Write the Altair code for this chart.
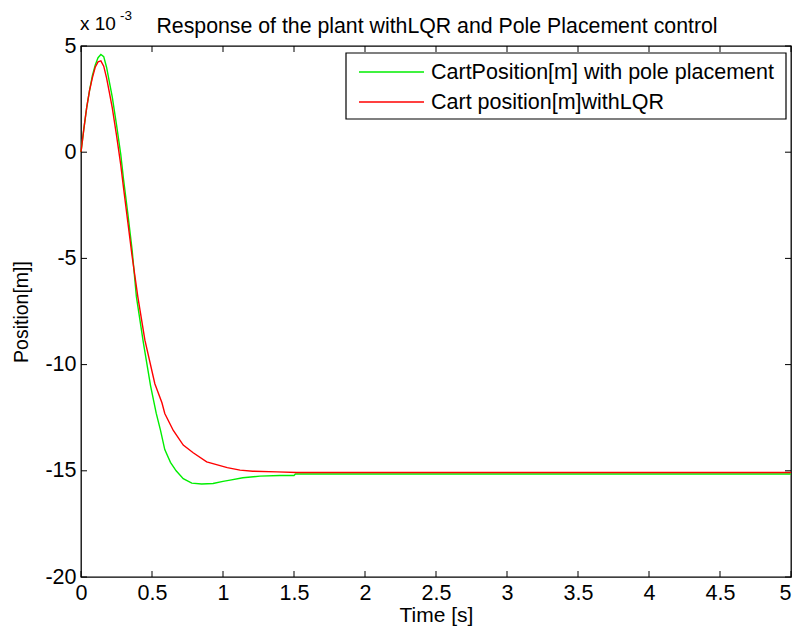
import altair as alt
import pandas as pd

FONT = "Liberation Sans"

# --- data (values in units of 1e-3 m) ---
series_names = ["CartPosition[m] with pole placement", "Cart position[m]withLQR"]
series_colors = ["#00ee00", "#ff0000"]

t_pp = [0, 0.02, 0.04, 0.06, 0.08, 0.10, 0.12, 0.14, 0.16, 0.18, 0.20, 0.22, 0.25,
        0.28, 0.30, 0.33, 0.36, 0.39, 0.44, 0.49, 0.53, 0.56, 0.59, 0.63, 0.67,
        0.72, 0.78, 0.85, 0.93, 1.00, 1.05, 1.14, 1.26, 1.40, 1.50, 1.51, 2.0,
        3.0, 4.0, 5.0]
y_pp = [0, 1.1, 2.1, 2.9, 3.6, 4.1, 4.45, 4.6, 4.5, 4.0, 3.3, 2.6, 1.3,
        -0.1, -1.3, -2.9, -4.6, -6.8, -9.0, -11.0, -12.3, -13.1, -14.0, -14.6, -15.0,
        -15.37, -15.58, -15.62, -15.6, -15.5, -15.44, -15.33, -15.25, -15.22, -15.22, -15.15, -15.15,
        -15.15, -15.15, -15.15]

t_lqr = [0, 0.02, 0.04, 0.06, 0.08, 0.10, 0.12, 0.14, 0.16, 0.18, 0.20, 0.22, 0.25,
         0.28, 0.30, 0.33, 0.36, 0.40, 0.45, 0.52, 0.57, 0.59, 0.65, 0.72, 0.79,
         0.885, 1.03, 1.12, 1.21, 1.38, 1.52, 2.0, 3.0, 4.0, 5.0]
y_lqr = [0, 1.1, 2.1, 2.9, 3.5, 4.0, 4.25, 4.3, 4.05, 3.5, 2.8, 2.1, 0.8,
         -0.6, -1.7, -3.3, -4.9, -6.8, -8.85, -10.9, -11.8, -12.3, -13.1, -13.79, -14.15,
         -14.58, -14.85, -14.97, -15.02, -15.05, -15.08, -15.08, -15.08, -15.08, -15.08]

x_ticks = [0, 0.5, 1, 1.5, 2, 2.5, 3, 3.5, 4, 4.5, 5]
y_ticks = [-20, -15, -10, -5, 0, 5]

title_text = "Response of the plant withLQR and Pole Placement control"
x_title = "Time [s]"
y_title = "Position[m]]"
exp_base = "x 10"
exp_power = "-3"

W, H = 710, 531
TICK = 6

# legend box layout (pixels, relative to plot area)
LEG_X0, LEG_X1, LEG_Y0, LEG_Y1 = 265, 705, 7, 73
LEG_SYM_X0, LEG_SYM_X1, LEG_TEXT_X = 278, 343, 350
LEG_ROW_Y = [26, 56]

# --- tables ---
df = pd.concat([
    pd.DataFrame({"t": t_pp, "y": y_pp, "series": series_names[0]}),
    pd.DataFrame({"t": t_lqr, "y": y_lqr, "series": series_names[1]}),
], ignore_index=True)
df_xt = pd.DataFrame({"t": x_ticks})
df_yt = pd.DataFrame({"y": y_ticks})

xscale = alt.Scale(domain=[0, 5], nice=False, zero=False)
yscale = alt.Scale(domain=[-20, 5], nice=False, zero=False)
cscale = alt.Scale(domain=series_names, range=series_colors)

lines = alt.Chart(df).mark_line(strokeWidth=1.4).encode(
    x=alt.X("t:Q", scale=xscale, title=x_title,
            axis=alt.Axis(values=x_ticks, ticks=False, tickSize=0, domain=False, grid=False,
                          labelExpr="datum.value + ''",
                          labelAlign=alt.ExprRef("datum.value >= 5 ? 'right' : 'center'"),
                          labelPadding=5, labelFontSize=21.5, labelFont=FONT, labelColor="black",
                          titleFont=FONT, titleFontSize=21, titleFontWeight="normal",
                          titleColor="black", titlePadding=1, labelFlush=False)),
    y=alt.Y("y:Q", scale=yscale, title=y_title,
            axis=alt.Axis(values=y_ticks, ticks=False, tickSize=0, domain=False, grid=False,
                          labelExpr="datum.value + ''",
                          labelPadding=5, labelFontSize=21.5, labelFont=FONT, labelColor="black",
                          titleFont=FONT, titleFontSize=19.5, titleFontWeight="normal",
                          titleColor="black", titlePadding=13, labelFlush=False)),
    color=alt.Color("series:N", scale=cscale, legend=None),
    detail="series:N",
)

tick_bottom = alt.Chart(df_xt).mark_rule(color="black", strokeWidth=1).encode(
    x=alt.X("t:Q", scale=xscale), y=alt.value(H), y2=alt.value(H - TICK))
tick_top = alt.Chart(df_xt).mark_rule(color="black", strokeWidth=1).encode(
    x=alt.X("t:Q", scale=xscale), y=alt.value(0), y2=alt.value(TICK))
tick_left = alt.Chart(df_yt).mark_rule(color="black", strokeWidth=1).encode(
    y=alt.Y("y:Q", scale=yscale), x=alt.value(0), x2=alt.value(TICK))
tick_right = alt.Chart(df_yt).mark_rule(color="black", strokeWidth=1).encode(
    y=alt.Y("y:Q", scale=yscale), x=alt.value(W), x2=alt.value(W - TICK))

# --- manual legend ---
leg_df = pd.DataFrame({"series": series_names, "row": [0, 1]})
leg_box = alt.Chart(pd.DataFrame({"k": [0]})).mark_rect(
    fill="white", stroke="black", strokeWidth=1.2
).encode(x=alt.value(LEG_X0), x2=alt.value(LEG_X1), y=alt.value(LEG_Y0), y2=alt.value(LEG_Y1))
leg_layers = []
for i, name in enumerate(series_names):
    sub = leg_df[leg_df["row"] == i]
    leg_layers.append(
        alt.Chart(sub).mark_rule(strokeWidth=1.3).encode(
            x=alt.value(LEG_SYM_X0), x2=alt.value(LEG_SYM_X1), y=alt.value(LEG_ROW_Y[i]),
            color=alt.Color("series:N", scale=cscale, legend=None))
    )
    leg_layers.append(
        alt.Chart(sub).mark_text(font=FONT, fontSize=21.5, align="left", baseline="middle",
                                 color="black", dy=1).encode(
            text="series:N", x=alt.value(LEG_TEXT_X), y=alt.value(LEG_ROW_Y[i]))
    )

# --- title and exponent annotation ---
txt_df = pd.DataFrame({"title": [title_text], "base": [exp_base], "power": [exp_power]})
title_mark = alt.Chart(txt_df).mark_text(
    font=FONT, fontSize=21.3, align="center", baseline="alphabetic", color="black"
).encode(text="title:N", x=alt.value(W / 2 + 1), y=alt.value(-13))
exp_base_mark = alt.Chart(txt_df).mark_text(
    font=FONT, fontSize=19, align="left", baseline="alphabetic", color="black"
).encode(text="base:N", x=alt.value(-1), y=alt.value(-16))
exp_pow_mark = alt.Chart(txt_df).mark_text(
    font=FONT, fontSize=13.5, align="left", baseline="alphabetic", color="black"
).encode(text="power:N", x=alt.value(39), y=alt.value(-26))

chart = alt.layer(
    lines, tick_bottom, tick_top, tick_left, tick_right,
    leg_box, *leg_layers, title_mark, exp_base_mark, exp_pow_mark
).properties(
    width=W, height=H,
    padding={"left": 73, "top": 38, "right": 1, "bottom": 50},
    autosize="none",
    background="white",
).configure_view(stroke="black", strokeWidth=1.3)

chart.save("out.html", embed_options={"renderer": "svg", "actions": False})
